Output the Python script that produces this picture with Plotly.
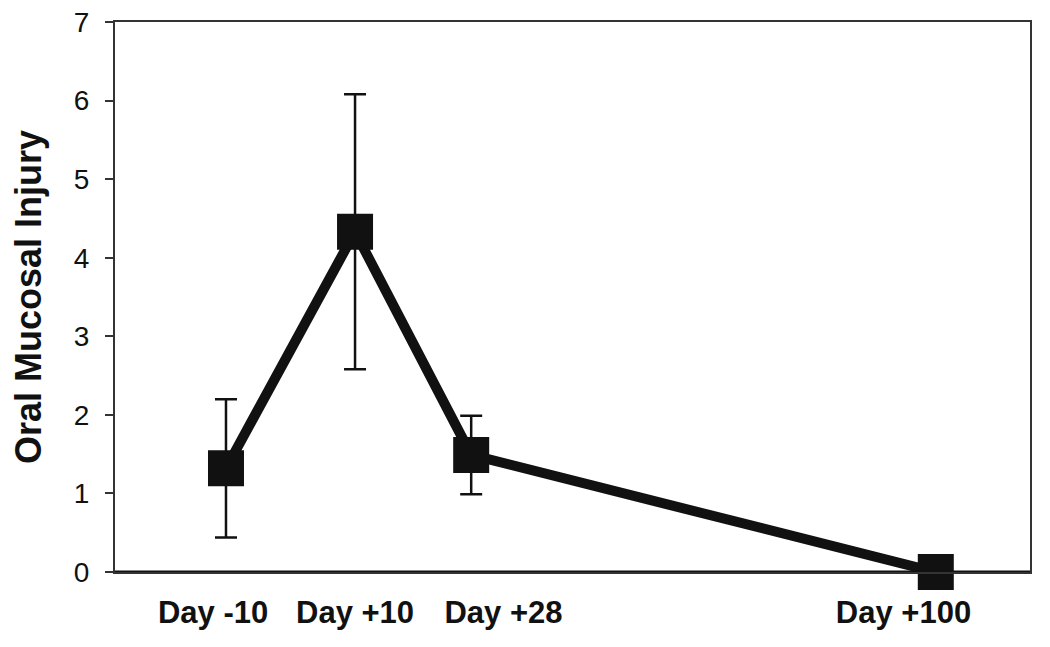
import plotly.graph_objects as go

# study days and mean oral mucosal injury score (+/- error)
days = [-10, 10, 28, 100]
injury = [1.32, 4.33, 1.49, 0.0]
injury_err = [0.88, 1.75, 0.50, 0.0]

tick_pos = [-12, 10, 33, 95]
tick_text = ["Day -10", "Day +10", "Day +28", "Day +100"]
y_ticks = [0, 1, 2, 3, 4, 5, 6, 7]

FONT = "Liberation Sans, Arial, sans-serif"

fig = go.Figure()

fig.add_trace(go.Scatter(
    x=days,
    y=injury,
    mode="lines+markers",
    line=dict(color="#111111", width=10),
    marker=dict(symbol="square", size=36, color="#111111"),
    error_y=dict(type="data", array=injury_err, visible=True,
                 color="#111111", thickness=2.5, width=11),
    cliponaxis=False,
    showlegend=False,
))

# thicker baseline under the plot
fig.add_shape(type="line", xref="paper", yref="y", x0=0, x1=1, y0=0, y1=0,
              line=dict(color="#111111", width=3))

fig.add_annotation(
    text="Oral Mucosal Injury", textangle=-90,
    xref="paper", yref="paper", x=(20 - 107) / 915, y=0.5,
    xanchor="center", yanchor="middle", showarrow=False,
    font=dict(family=FONT, size=36, color="#111111", weight="bold"),
)

# page body adds ~8px offset, margins compensate for it
fig.update_layout(
    width=1050, height=647,
    margin=dict(l=107, r=28, t=14, b=83, autoexpand=False),
    paper_bgcolor="white", plot_bgcolor="white",
    font=dict(family=FONT, color="#111111"),
)

fig.update_xaxes(
    range=[-27.2, 114.6],
    tickvals=tick_pos, ticktext=tick_text,
    tickfont=dict(family=FONT, size=31, color="#111111", weight="bold"),
    ticks="", ticklabelstandoff=12,
    showline=True, linecolor="#333333", linewidth=2, mirror=True,
    showgrid=False, zeroline=False, automargin=False,
)

fig.update_yaxes(
    range=[0, 7],
    tickvals=y_ticks,
    tickfont=dict(family=FONT, size=28, color="#111111"),
    ticks="outside", ticklen=8, tickwidth=2, tickcolor="#333333",
    ticklabelstandoff=10, ticklabeloverflow="allow",
    showline=True, linecolor="#333333", linewidth=2, mirror=True,
    showgrid=False, zeroline=False, automargin=False,
)

fig.write_html("out.html")
